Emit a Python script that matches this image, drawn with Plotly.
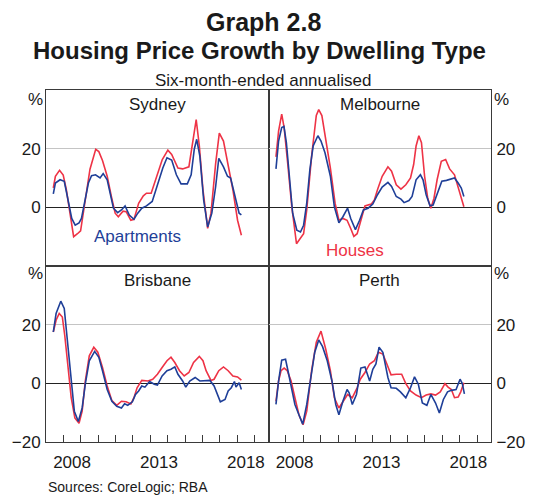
import plotly.graph_objects as go
from plotly.subplots import make_subplots

# ---------------- data (decimal years, % six-month-ended annualised) ----------------
syd_house_x = [2007.42, 2007.54, 2007.78, 2007.99, 2008.17, 2008.36, 2008.59, 2008.81, 2008.99, 2009.26,
               2009.53, 2009.86, 2010.04, 2010.25, 2010.52, 2010.76, 2010.98, 2011.16, 2011.43, 2011.61,
               2011.88, 2012.06, 2012.33, 2012.60, 2012.78, 2013.05, 2013.32, 2013.69, 2014.01, 2014.23,
               2014.59, 2014.86, 2015.22, 2015.40, 2015.64, 2015.82, 2016.03, 2016.30, 2016.49, 2016.76,
               2016.97, 2017.21, 2017.48, 2017.75, 2018.02, 2018.24]
syd_house_y = [6.6, 10.6, 12.6, 11, 6, -2, -10, -9, -8, 2.5,
               13, 19.8, 19, 16, 10.6, 3.7, -2, -3.2, -1.3, -1.5,
               -4.4, -4.1, 1.4, 3.9, 4.8, 4.8, 9.4, 16.3, 19.5, 18,
               13.4, 13.1, 13.8, 21, 29.9, 21, 6, -7.2, -2, 15,
               25.3, 22.6, 14, 6, -4.4, -9.5]
syd_apt_x = [2007.42, 2007.54, 2007.81, 2008.05, 2008.17, 2008.36, 2008.48, 2008.68, 2008.90, 2009.04,
             2009.20, 2009.44, 2009.62, 2009.85, 2010.11, 2010.29, 2010.52, 2010.70, 2010.88, 2011.12,
             2011.34, 2011.55, 2011.79, 2012.06, 2012.28, 2012.51, 2012.78, 2013.11, 2013.41, 2013.72,
             2013.96, 2014.23, 2014.50, 2014.77, 2015.13, 2015.35, 2015.53, 2015.67, 2015.85, 2016.07,
             2016.30, 2016.54, 2016.76, 2016.94, 2017.21, 2017.44, 2017.62, 2017.84, 2018.02, 2018.11,
             2018.24]
syd_apt_y = [4.6, 8.3, 9.4, 8.9, 5.4, 0.2, -3.8, -6.1, -5.3, -3.8,
             1.4, 8.3, 10.8, 11.1, 10, 11.5, 9.4, 4.3, -0.3, -1.8,
             -0.9, 0.5, -2.6, -4.1, -2, -0.3, 0.5, 2, 7.7, 13.4,
             16.9, 16.1, 11.1, 8, 8, 11.1, 19.8, 23.2, 17.5, 2.5,
             -6.7, -2, 7.1, 16.7, 13.8, 10.6, 10, 4.8, 0.8, -2,
             -2.6]

mel_house_x = [2007.43, 2007.58, 2007.76, 2007.90, 2008.12, 2008.34, 2008.61, 2008.84, 2009.02, 2009.20,
               2009.48, 2009.75, 2009.89, 2010.07, 2010.29, 2010.56, 2010.83, 2011.05, 2011.28, 2011.52,
               2011.73, 2011.91, 2012.10, 2012.31, 2012.55, 2012.91, 2013.09, 2013.27, 2013.54, 2013.87,
               2014.08, 2014.35, 2014.62, 2014.90, 2015.17, 2015.35, 2015.49, 2015.65, 2015.80, 2015.98,
               2016.16, 2016.34, 2016.52, 2016.70, 2016.94, 2017.19, 2017.42, 2017.70, 2017.97, 2018.24]
mel_house_y = [17.2, 26, 31.8, 27.2, 14, 0.2, -12.4, -10.7, -9, -0.9,
               17.5, 31.3, 33.3, 31.3, 23.2, 13.4, 1.4, -4.4, -3.8, -4.4,
               -7.2, -9.9, -9, -4.4, 0.5, 1.1, 2.5, 6, 10.6, 13.8,
               12.3, 7.7, 6.2, 7.7, 10, 14.6, 20.9, 24.4, 22, 10.6,
               3.1, -0.3, 3.1, 9.4, 15.7, 16.3, 13.1, 11.1, 5.4, 0.2]
mel_apt_x = [2007.43, 2007.58, 2007.76, 2007.89, 2008.03, 2008.21, 2008.39, 2008.63, 2008.84, 2009.02,
             2009.20, 2009.38, 2009.57, 2009.84, 2010.02, 2010.25, 2010.56, 2010.79, 2011.05, 2011.28,
             2011.55, 2011.73, 2012.00, 2012.24, 2012.46, 2012.73, 2013.00, 2013.27, 2013.54, 2013.87,
             2014.08, 2014.35, 2014.62, 2014.80, 2015.08, 2015.26, 2015.49, 2015.74, 2015.89, 2016.07,
             2016.29, 2016.47, 2016.70, 2016.97, 2017.24, 2017.52, 2017.70, 2017.91, 2018.09, 2018.24]
mel_apt_y = [13.1, 22.6, 27.2, 27.6, 22, 10.6, -2, -7.8, -8.4, -6.1,
             1.4, 12.9, 20.9, 24.4, 22.6, 18.6, 10.6, 0.2, -5.3, -3.2,
             -0.3, -3.8, -7.6, -4.4, -0.9, -0.3, 1.1, 4.3, 6.9, 8.5,
             7.1, 3.7, 2.8, 1.6, 2.3, 3.7, 9.4, 11.1, 9.4, 4.3,
             0.5, 0.8, 4.3, 8.9, 9.2, 9.7, 10, 8.3, 6.6, 3.7]

bne_house_x = [2007.42, 2007.58, 2007.76, 2007.94, 2008.08, 2008.26, 2008.45, 2008.66, 2008.90, 2009.08,
               2009.26, 2009.49, 2009.75, 2009.98, 2010.25, 2010.52, 2010.79, 2011.07, 2011.34, 2011.61,
               2011.88, 2012.06, 2012.24, 2012.51, 2012.87, 2013.14, 2013.41, 2013.68, 2013.96, 2014.19,
               2014.41, 2014.68, 2014.95, 2015.22, 2015.49, 2015.82, 2016.03, 2016.21, 2016.49, 2016.67,
               2016.94, 2017.21, 2017.48, 2017.75, 2018.02, 2018.24]
bne_house_y = [17.5, 21.5, 23.8, 22.6, 16.3, 5.4, -4.9, -11.8, -13.6, -9.5,
               0.8, 9.4, 12.3, 10.6, 5.4, -0.9, -5.9, -7.5, -6.1, -6.3,
               -7, -4.9, -1.5, 1, 0.8, 1.4, 3.1, 5.4, 7.7, 8.9,
               7.1, 4.3, 2.5, 3.7, 7.1, 9.2, 7.7, 4.3, 1, 1.4,
               4.3, 5.6, 4.3, 2.5, 2.2, 1.1]
bne_apt_x = [2007.42, 2007.58, 2007.85, 2008.05, 2008.23, 2008.41, 2008.63, 2008.86, 2009.08, 2009.26,
             2009.49, 2009.80, 2010.04, 2010.25, 2010.52, 2010.79, 2011.07, 2011.34, 2011.52, 2011.70,
             2011.97, 2012.15, 2012.33, 2012.51, 2012.69, 2012.96, 2013.23, 2013.41, 2013.68, 2013.96,
             2014.19, 2014.41, 2014.59, 2014.86, 2015.04, 2015.27, 2015.58, 2015.85, 2016.21, 2016.43,
             2016.67, 2016.85, 2017.03, 2017.30, 2017.48, 2017.66, 2017.84, 2017.93, 2018.11, 2018.24]
bne_apt_y = [17.5, 23.8, 28, 25.5, 14.6, 3.1, -9.5, -13, -8.4, -0.3,
             7.7, 10.9, 8.9, 4.3, -2.1, -6.1, -7.8, -8.4, -7, -7.5,
             -6.3, -3.8, -2.6, -0.9, -1.3, 0.6, -0.3, -0.6, 2.5, 4.3,
             4.8, 5.6, 3.1, 0.8, -1.3, 0.8, 2, 0.8, 1, 1,
             -0.9, -3.6, -6.3, -5.5, -2.6, -1.5, 0.6, -1.3, 0.2, -2.1]

per_house_x = [2007.43, 2007.58, 2007.72, 2007.90, 2008.08, 2008.30, 2008.52, 2008.75, 2008.99, 2009.20,
               2009.48, 2009.75, 2010.02, 2010.29, 2010.56, 2010.79, 2011.05, 2011.28, 2011.55, 2011.82,
               2012.10, 2012.28, 2012.55, 2012.82, 2013.09, 2013.32, 2013.58, 2013.81, 2014.05, 2014.35,
               2014.66, 2014.90, 2015.17, 2015.49, 2015.80, 2016.07, 2016.34, 2016.61, 2016.88, 2017.15,
               2017.33, 2017.52, 2017.70, 2017.91, 2018.06, 2018.24]
per_house_y = [-6.1, 0.8, 4.3, 5.2, 4.3, 0.8, -4.9, -10.7, -14.1, -9.5,
               4.3, 14, 17.8, 11.7, 4.3, -4.9, -8.4, -6.1, -3.8, -4.9,
               -1.5, 1.4, 3.7, 6.6, 7.7, 10.6, 10, 6.6, 2.9, 3.1,
               3.1, -0.1, -2.6, -4, -4.9, -4, -3.6, -4, -2.9, -0.1,
               -1.3, -2.1, -4.9, -4.7, -2.9, 0.2]
per_apt_x = [2007.43, 2007.58, 2007.76, 2007.98, 2008.12, 2008.30, 2008.52, 2008.75, 2008.97, 2009.20,
             2009.48, 2009.66, 2009.89, 2010.11, 2010.38, 2010.65, 2010.87, 2011.05, 2011.28, 2011.52,
             2011.64, 2011.82, 2012.06, 2012.31, 2012.55, 2012.82, 2013.00, 2013.18, 2013.36, 2013.58,
             2013.87, 2014.05, 2014.35, 2014.59, 2014.90, 2015.17, 2015.40, 2015.62, 2015.85, 2016.11,
             2016.34, 2016.61, 2016.83, 2017.06, 2017.30, 2017.52, 2017.79, 2018.02, 2018.15, 2018.27]
per_apt_y = [-7.2, 0.8, 7.9, 8.2, 4.3, -0.9, -7.2, -10.7, -13.9, -7.2,
             4.3, 10.6, 14.8, 12.5, 7.7, 0.8, -7.2, -10.7, -6.1, -2.1,
             -3.2, -7.2, -3.8, 5.2, 5.6, 0.8, 4.8, 6.6, 12.3, 10.6,
             2, -1.5, -1.7, -2.9, -4.9, -1.5, 2.2, -0.3, -6.7, -7.5,
             -3.8, -6.7, -10.1, -5.5, -2.9, -2.4, -2.1, 1.4, -0.1, -3.6]

cities = ["Sydney", "Melbourne", "Brisbane", "Perth"]
year_tick_vals = [2008.5, 2013.5, 2018.5]
year_tick_text = ["2008", "2013", "2018"]
year_bounds = list(range(2007, 2020))
x_range = [2007, 2019.8]
y_range = [-20, 40]

RED = "#ee3346"
BLUE = "#1f3f98"
FONT = "Liberation Sans, Arial, sans-serif"
TXT = "#1a1a1a"
LINE = "#3a3a3a"

fig = make_subplots(rows=2, cols=2, horizontal_spacing=0, vertical_spacing=0)

panels = [
    (1, 1, syd_house_x, syd_house_y, syd_apt_x, syd_apt_y),
    (1, 2, mel_house_x, mel_house_y, mel_apt_x, mel_apt_y),
    (2, 1, bne_house_x, bne_house_y, bne_apt_x, bne_apt_y),
    (2, 2, per_house_x, per_house_y, per_apt_x, per_apt_y),
]
for r, c, hx, hy, ax, ay in panels:
    fig.add_trace(go.Scatter(x=hx, y=hy, mode="lines", line=dict(color=RED, width=1.6),
                             name="Houses", showlegend=False, hoverinfo="skip"), row=r, col=c)
    fig.add_trace(go.Scatter(x=ax, y=ay, mode="lines", line=dict(color=BLUE, width=1.6),
                             name="Apartments", showlegend=False, hoverinfo="skip"), row=r, col=c)

for i in range(1, 5):
    bottom = i >= 3
    xa = dict(range=x_range, tickmode="array", tickvals=year_tick_vals, ticktext=year_tick_text,
              ticks="", ticklen=0, showgrid=False, zeroline=False, showline=True, mirror=True,
              linecolor=LINE, linewidth=1, showticklabels=bottom,
              tickfont=dict(size=17, family=FONT, color=TXT), ticklabelstandoff=5)
    fig.layout["xaxis" + ("" if i == 1 else str(i))].update(xa)
    ya = dict(range=y_range, tickmode="array", tickvals=[-20, 0, 20] if bottom else [0, 20],
              ticks="", ticklen=0, showgrid=True, gridcolor="#c4c4c4", gridwidth=1,
              zeroline=True, zerolinecolor="#222222", zerolinewidth=1,
              showline=True, mirror=True, linecolor=LINE, linewidth=1,
              tickfont=dict(size=17, family=FONT, color=TXT), ticklabelstandoff=1)
    if i in (2, 4):
        ya["side"] = "right"
    fig.layout["yaxis" + ("" if i == 1 else str(i))].update(ya)

# year-boundary tick marks on the bottom panels (overlay axes)
for k, (base_x, base_y) in enumerate([("x3", "y3"), ("x4", "y4")], start=5):
    fig.add_trace(go.Scatter(x=[], y=[], xaxis="x" + str(k), yaxis=base_y, showlegend=False))
    fig.layout["xaxis" + str(k)] = dict(overlaying=base_x, anchor=base_y, range=x_range,
                                        tickmode="array", tickvals=year_bounds, ticks="inside",
                                        ticklen=7, tickwidth=1, tickcolor=LINE, showticklabels=False,
                                        showgrid=False, zeroline=False, showline=False, side="bottom")

ann = []
# panel titles
for i, name in enumerate(cities, start=1):
    sfx = "" if i == 1 else str(i)
    ann.append(dict(text=name, xref="x" + sfx + " domain", yref="y" + sfx + " domain",
                    x=0.5, y=0.915, xanchor="center", yanchor="middle", showarrow=False,
                    font=dict(size=17, family=FONT, color=TXT)))
# series labels
ann.append(dict(text="Apartments", xref="x", yref="y", x=2012.26, y=-9.8, showarrow=False,
                xanchor="center", yanchor="middle", font=dict(size=17, family=FONT, color=BLUE)))
ann.append(dict(text="Houses", xref="x2", yref="y2", x=2012.0, y=-14.7, showarrow=False,
                xanchor="center", yanchor="middle", font=dict(size=17, family=FONT, color=RED)))
# percent units
for yy in (0.972, 0.478):
    ann.append(dict(text="%", xref="paper", yref="paper", x=0.0, y=yy, xanchor="right", xshift=-1,
                    yanchor="middle", showarrow=False, font=dict(size=17, family=FONT, color=TXT)))
    ann.append(dict(text="%", xref="paper", yref="paper", x=1.0, y=yy, xanchor="left", xshift=1,
                    yanchor="middle", showarrow=False, font=dict(size=17, family=FONT, color=TXT)))
# titles
ann.append(dict(text="<b>Graph 2.8</b>", xref="paper", yref="paper", x=0.488, y=1.193,
                xanchor="center", yanchor="middle", showarrow=False,
                font=dict(size=25, family=FONT, color=TXT)))
ann.append(dict(text="<b>Housing Price Growth by Dwelling Type</b>", xref="paper", yref="paper",
                x=0.48, y=1.1136, xanchor="center", yanchor="middle", showarrow=False,
                font=dict(size=24, family=FONT, color=TXT)))
ann.append(dict(text="Six-month-ended annualised", xref="paper", yref="paper", x=0.487, y=1.0256,
                xanchor="center", yanchor="middle", showarrow=False,
                font=dict(size=17, family=FONT, color=TXT)))
ann.append(dict(text="Sources: CoreLogic; RBA", xref="paper", yref="paper", x=0.0, y=-0.128,
                xanchor="left", yanchor="middle", showarrow=False,
                font=dict(size=14, family=FONT, color=TXT)))

fig.update_layout(width=537, height=496, margin=dict(l=30, r=32, t=90, b=54),
                  paper_bgcolor="white", plot_bgcolor="white", annotations=ann,
                  showlegend=False, font=dict(family=FONT, color=TXT))

fig.write_html("out.html", config={"displayModeBar": False},
               post_script="document.body.style.margin='0';document.body.style.padding='0';")
